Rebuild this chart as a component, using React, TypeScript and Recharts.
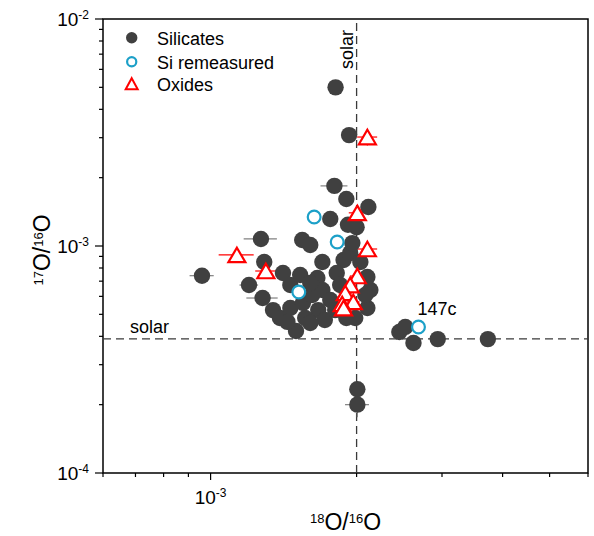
import React from 'react';
import {
  ScatterChart,
  Scatter,
  XAxis,
  YAxis,
  ReferenceLine,
  ReferenceArea,
  ErrorBar,
  LabelList,
} from 'recharts';

const FONT = '"Liberation Sans", Arial, Helvetica, sans-serif';

// 18O/16O (x) and 17O/16O (y) ratios, with 1-sigma errors (ex, ey)
const silicates = [
  { x: 1.81e-3, y: 5.0e-3, ex: 0, ey: 0 },
  { x: 1.93e-3, y: 3.08e-3, ex: 0, ey: 0 },
  { x: 1.8e-3, y: 1.84e-3, ex: 1.15e-4, ey: 0 },
  { x: 1.905e-3, y: 1.61e-3, ex: 0, ey: 0 },
  { x: 2.115e-3, y: 1.485e-3, ex: 0, ey: 0 },
  { x: 1.765e-3, y: 1.315e-3, ex: 0, ey: 0 },
  { x: 1.92e-3, y: 1.24e-3, ex: 0, ey: 0 },
  { x: 2.0e-3, y: 1.21e-3, ex: 0, ey: 0 },
  { x: 1.545e-3, y: 1.063e-3, ex: 0, ey: 0 },
  { x: 1.605e-3, y: 1.01e-3, ex: 0, ey: 0 },
  { x: 1.27e-3, y: 1.074e-3, ex: 1.0e-4, ey: 0 },
  { x: 1.29e-3, y: 8.5e-4, ex: 0, ey: 0 },
  { x: 1.7e-3, y: 8.5e-4, ex: 0, ey: 0 },
  { x: 1.88e-3, y: 8.68e-4, ex: 0, ey: 0 },
  { x: 1.94e-3, y: 9.3e-4, ex: 0, ey: 0 },
  { x: 1.96e-3, y: 1.03e-3, ex: 0, ey: 0 },
  { x: 9.6e-4, y: 7.4e-4, ex: 5.5e-5, ey: 0 },
  { x: 1.41e-3, y: 7.6e-4, ex: 0, ey: 0 },
  { x: 1.2e-3, y: 6.73e-4, ex: 5.3e-5, ey: 0 },
  { x: 1.46e-3, y: 6.73e-4, ex: 0, ey: 0 },
  { x: 1.82e-3, y: 7.6e-4, ex: 0, ey: 0 },
  { x: 1.66e-3, y: 7.23e-4, ex: 0, ey: 0 },
  { x: 2.105e-3, y: 7.3e-4, ex: 0, ey: 0 },
  { x: 1.28e-3, y: 5.9e-4, ex: 9.5e-5, ey: 0 },
  { x: 2.135e-3, y: 6.4e-4, ex: 0, ey: 0 },
  { x: 2.105e-3, y: 5.33e-4, ex: 0, ey: 0 },
  { x: 1.345e-3, y: 5.22e-4, ex: 5e-5, ey: 0 },
  { x: 1.39e-3, y: 4.82e-4, ex: 0, ey: 0 },
  { x: 1.46e-3, y: 5.33e-4, ex: 0, ey: 0 },
  { x: 1.5e-3, y: 4.22e-4, ex: 0, ey: 0 },
  { x: 1.55e-3, y: 5.61e-4, ex: 0, ey: 0 },
  { x: 1.905e-3, y: 4.82e-4, ex: 0, ey: 0 },
  { x: 1.62e-3, y: 6.08e-4, ex: 0, ey: 0 },
  { x: 1.7e-3, y: 6.4e-4, ex: 0, ey: 0 },
  { x: 1.765e-3, y: 5.78e-4, ex: 0, ey: 0 },
  { x: 1.667e-3, y: 5.22e-4, ex: 0, ey: 0 },
  { x: 1.567e-3, y: 4.82e-4, ex: 0, ey: 0 },
  { x: 1.72e-3, y: 4.72e-4, ex: 0, ey: 0 },
  { x: 1.85e-3, y: 6.73e-4, ex: 0, ey: 0 },
  { x: 2.036e-3, y: 8.5e-4, ex: 0, ey: 0 },
  { x: 2.085e-3, y: 6.08e-4, ex: 0, ey: 0 },
  { x: 1.53e-3, y: 7.45e-4, ex: 0, ey: 0 },
  { x: 1.605e-3, y: 6.87e-4, ex: 0, ey: 0 },
  { x: 1.807e-3, y: 5.22e-4, ex: 0, ey: 0 },
  { x: 1.44e-3, y: 4.63e-4, ex: 0, ey: 0 },
  { x: 1.987e-3, y: 4.82e-4, ex: 0, ey: 0 },
  { x: 1.605e-3, y: 4.58e-4, ex: 0, ey: 0 },
  { x: 2.45e-3, y: 4.18e-4, ex: 0, ey: 0 },
  { x: 2.52e-3, y: 4.4e-4, ex: 0, ey: 0 },
  { x: 2.62e-3, y: 3.74e-4, ex: 0, ey: 0 },
  { x: 2.94e-3, y: 3.89e-4, ex: 0, ey: 0 },
  { x: 3.73e-3, y: 3.89e-4, ex: 0, ey: 0 },
  { x: 2.007e-3, y: 2.34e-4, ex: 0, ey: 1.5e-5 },
  { x: 2.007e-3, y: 2.0e-4, ex: 1.14e-4, ey: 2.4e-5 },
];

const siRemeasured = [
  { x: 1.635e-3, y: 1.342e-3, label: '' },
  { x: 1.824e-3, y: 1.041e-3, label: '' },
  { x: 1.52e-3, y: 6.27e-4, label: '' },
  { x: 2.683e-3, y: 4.4e-4, label: '147c' },
];

const oxides = [
  { x: 2.105e-3, y: 3.02e-3, ex: 1.0e-4, ey: 2.5e-4 },
  { x: 2.007e-3, y: 1.4e-3, ex: 8e-5, ey: 6e-5 },
  { x: 1.133e-3, y: 9.13e-4, ex: 9.4e-5, ey: 4.7e-5 },
  { x: 2.105e-3, y: 9.7e-4, ex: 1.0e-4, ey: 6e-5 },
  { x: 1.3e-3, y: 7.76e-4, ex: 6.4e-5, ey: 4e-5 },
  { x: 2.007e-3, y: 7.375e-4, ex: 7e-5, ey: 4e-5 },
  { x: 1.94e-3, y: 6.73e-4, ex: 6e-5, ey: 3e-5 },
  { x: 1.895e-3, y: 6.21e-4, ex: 6e-5, ey: 3e-5 },
  { x: 1.969e-3, y: 5.67e-4, ex: 6e-5, ey: 3e-5 },
  { x: 1.868e-3, y: 5.555e-4, ex: 6e-5, ey: 3e-5 },
  { x: 1.88e-3, y: 5.33e-4, ex: 6e-5, ey: 3e-5 },
];

const solarX = 2.0e-3;
const solarY = 3.9e-4;

const xDomain = [6e-4, 6e-3];
const yDomain = [1e-4, 1e-2];
const xTicks = [6e-4, 7e-4, 8e-4, 9e-4, 1e-3, 2e-3, 3e-3, 4e-3, 5e-3, 6e-3];
const yTicks = [
  1e-4, 2e-4, 3e-4, 4e-4, 5e-4, 6e-4, 7e-4, 8e-4, 9e-4,
  1e-3, 2e-3, 3e-3, 4e-3, 5e-3, 6e-3, 7e-3, 8e-3, 9e-3, 1e-2,
];

const SIL_COLOR = '#404040';
const TEAL = '#1ca0c8';
const RED = '#ff0000';

const isMajor = (v: number) => {
  const lg = Math.log10(v);
  return Math.abs(lg - Math.round(lg)) < 1e-6;
};

const XTick = (props: any) => {
  const { x, y, payload } = props;
  const v = payload.value;
  const major = isMajor(v);
  return (
    <g>
      <line x1={x} x2={x} y1={y} y2={y + (major ? 7 : 4)} stroke="#000" strokeWidth={1.2} />
      {major && (
        <text x={x} y={y + 31} textAnchor="middle" fontSize={19} fontFamily={FONT} fill="#000">
          10
          <tspan fontSize={12} dy={-7}>
            {String(Math.round(Math.log10(v)))}
          </tspan>
        </text>
      )}
    </g>
  );
};

const YTick = (props: any) => {
  const { x, y, payload } = props;
  const v = payload.value;
  const major = isMajor(v);
  return (
    <g>
      <line x1={x - (major ? 8 : 4)} x2={x} y1={y} y2={y} stroke="#000" strokeWidth={1.2} />
      {major && (
        <text x={x - 14} y={y + 7} textAnchor="end" fontSize={19} fontFamily={FONT} fill="#000">
          10
          <tspan fontSize={12} dy={-7}>
            {String(Math.round(Math.log10(v)))}
          </tspan>
        </text>
      )}
    </g>
  );
};

const SilicateDot = (props: any) => {
  const { cx, cy } = props;
  if (cx == null || cy == null) return null;
  return <circle cx={cx} cy={cy} r={8.2} fill={SIL_COLOR} />;
};

const OpenDot = (props: any) => {
  const { cx, cy } = props;
  if (cx == null || cy == null) return null;
  return <circle cx={cx} cy={cy} r={6.4} fill="#fff" stroke={TEAL} strokeWidth={2.2} />;
};

const Tri = (props: any) => {
  const { cx, cy } = props;
  if (cx == null || cy == null) return null;
  const w = 17;
  const h = 14.5;
  return (
    <path
      d={`M${cx},${cy - h / 2} L${cx + w / 2},${cy + h / 2} L${cx - w / 2},${cy + h / 2} Z`}
      fill="#fff"
      stroke={RED}
      strokeWidth={2.2}
    />
  );
};

const XTitle = (props: any) => {
  const vb = props.viewBox || {};
  const cx = vb.x + vb.width / 2;
  const by = vb.y + 57;
  return (
    <text x={cx} y={by} textAnchor="middle" fontFamily={FONT} fontSize={23} fill="#000">
      <tspan fontSize={13} dy={-7}>18</tspan>
      <tspan dy={7}>O/</tspan>
      <tspan fontSize={13} dy={-7}>16</tspan>
      <tspan dy={7}>O</tspan>
    </text>
  );
};

const YTitle = (props: any) => {
  const vb = props.viewBox || {};
  const cy = vb.y + vb.height / 2 + 4;
  const bx = 50;
  return (
    <text
      x={bx}
      y={cy}
      transform={`rotate(-90 ${bx} ${cy})`}
      textAnchor="middle"
      fontFamily={FONT}
      fontSize={23}
      fill="#000"
    >
      <tspan fontSize={13} dy={-7}>17</tspan>
      <tspan dy={7}>O/</tspan>
      <tspan fontSize={13} dy={-7}>16</tspan>
      <tspan dy={7}>O</tspan>
    </text>
  );
};

const SolarVLabel = (props: any) => {
  const vb = props.viewBox || {};
  const x = vb.x - 4;
  const y = vb.y + 50;
  return (
    <text x={x} y={y} transform={`rotate(-90 ${x} ${y})`} fontFamily={FONT} fontSize={18} fill="#000">
      solar
    </text>
  );
};

const SolarHLabel = (props: any) => {
  const vb = props.viewBox || {};
  const x = vb.x + 27;
  const y = vb.y - 6;
  return (
    <text x={x} y={y} fontFamily={FONT} fontSize={18} fill="#000">
      solar
    </text>
  );
};

const PointLabel = (props: any) => {
  const { x, y, width, height, value } = props;
  if (!value) return null;
  const cx = x + (width || 0) / 2;
  const cy = y + (height || 0) / 2;
  return (
    <text x={cx - 1} y={cy - 12} fontFamily={FONT} fontSize={18} fill="#000">
      {value}
    </text>
  );
};

const Legend = () => (
  <svg
    width={200}
    height={80}
    style={{ position: 'absolute', left: 120, top: 24, pointerEvents: 'none' }}
  >
    <circle cx={11.7} cy={13.8} r={5.7} fill={SIL_COLOR} />
    <text x={37} y={21} fontFamily={FONT} fontSize={18} fill="#000">Silicates</text>
    <circle cx={11.7} cy={37.7} r={4.6} fill="#fff" stroke={TEAL} strokeWidth={2.2} />
    <text x={37} y={44.5} fontFamily={FONT} fontSize={18} fill="#000">Si remeasured</text>
    <path d="M11.7,54.2 L17.7,65.2 L5.7,65.2 Z" fill="#fff" stroke={RED} strokeWidth={2} />
    <text x={37} y={67} fontFamily={FONT} fontSize={18} fill="#000">Oxides</text>
  </svg>
);

export default function App() {
  return (
    <div style={{ position: 'absolute', left: 0, top: 0, width: 594, height: 536, background: '#fff' }}>
      <ScatterChart width={594} height={536} margin={{ top: 19, right: 6, bottom: 33, left: 43 }}>
        <XAxis
          type="number"
          dataKey="x"
          scale="log"
          domain={xDomain}
          allowDataOverflow
          ticks={xTicks}
          interval={0}
          tick={(p: any) => <XTick {...p} />}
          tickLine={false}
          tickSize={0}
          tickMargin={0}
          axisLine={false}
          height={30}
          label={(p: any) => <XTitle {...p} />}
        />
        <YAxis
          type="number"
          dataKey="y"
          scale="log"
          domain={yDomain}
          allowDataOverflow
          ticks={yTicks}
          interval={0}
          tick={(p: any) => <YTick {...p} />}
          tickLine={false}
          tickSize={0}
          tickMargin={0}
          axisLine={false}
          width={60}
          label={(p: any) => <YTitle {...p} />}
        />
        <ReferenceLine
          x={solarX}
          stroke="#3a3a3a"
          strokeWidth={1.3}
          strokeDasharray="8 5"
          label={(p: any) => <SolarVLabel {...p} />}
        />
        <ReferenceLine
          y={solarY}
          stroke="#3a3a3a"
          strokeWidth={1.3}
          strokeDasharray="8 5"
          label={(p: any) => <SolarHLabel {...p} />}
        />
        <Scatter data={silicates} shape={SilicateDot} isAnimationActive={false}>
          <ErrorBar dataKey="ex" direction="x" width={0} stroke="#808080" strokeWidth={1.2} />
          <ErrorBar dataKey="ey" direction="y" width={0} stroke="#808080" strokeWidth={1.2} />
        </Scatter>
        <Scatter data={oxides} shape={Tri} isAnimationActive={false}>
          <ErrorBar dataKey="ex" direction="x" width={0} stroke={RED} strokeWidth={1.2} />
          <ErrorBar dataKey="ey" direction="y" width={0} stroke={RED} strokeWidth={1.2} />
        </Scatter>
        <Scatter data={siRemeasured} shape={OpenDot} isAnimationActive={false}>
          <LabelList dataKey="label" content={(p: any) => <PointLabel {...p} />} />
        </Scatter>
        <ReferenceArea
          x1={xDomain[0]}
          x2={xDomain[1]}
          y1={yDomain[0]}
          y2={yDomain[1]}
          ifOverflow="visible"
          fill="none"
          fillOpacity={0}
          stroke="#000"
          strokeWidth={1.5}
        />
      </ScatterChart>
      <Legend />
    </div>
  );
}
